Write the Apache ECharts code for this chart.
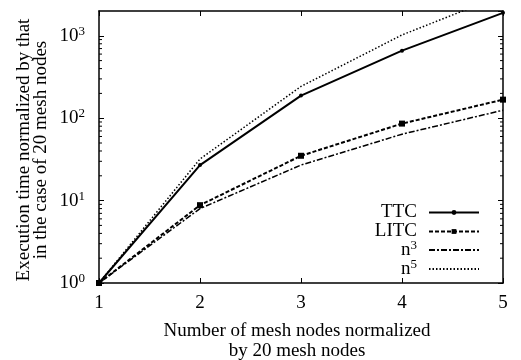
<!DOCTYPE html>
<html><head><meta charset="utf-8">
<script src="https://cdn.jsdelivr.net/npm/echarts@6/dist/echarts.min.js"></script>
<style>html,body{margin:0;padding:0;background:#fff}#c{width:521px;height:360px}</style>
</head><body><div id="c"></div>
<script>
const xValues = [1, 2, 3, 4, 5];
const ttc = [1, 27, 188, 660, 1900];
const litc = [1, 8.8, 35, 86, 168];
const n3 = [1, 8, 27, 64, 125];
const n5 = [1, 32, 243, 1024, 3125];
const xTicks = ['1', '2', '3', '4', '5'];
const yTickExps = ['0', '1', '2', '3'];
const minorMults = [2, 3, 4, 5, 6, 7, 8, 9];
const minorDecades = [1, 10, 100, 1000];
const legendNames = ['TTC', 'LITC', 'n3', 'n5'];

const FONT = 'Liberation Serif';
const FS = 19;
const pairs = a => a.map((v, i) => [xValues[i], v]);
const minorVals = [];
minorDecades.forEach(d => minorMults.forEach(m => { if (m * d < 2000) minorVals.push(m * d); }));

const chart = echarts.init(document.getElementById('c'), null, {renderer: 'canvas'});
const black = '#000';
const axisCommon = {
  axisLine: {show: true, onZero: false, lineStyle: {color: black, width: 1.5}},
  splitLine: {show: false},
  axisTick: {show: true, inside: true, length: 5, lineStyle: {color: black, width: 1}}
};
const richText = {
  b: {fontFamily: FONT, fontSize: FS, color: black},
  s: {fontFamily: FONT, fontSize: 13, color: black, padding: [0, 0, 9, 0]}
};
const legendTops = [203, 222, 239, 258];
const legends = legendNames.map((nm, i) => ({
  orient: 'vertical', align: 'right', right: 41, top: legendTops[i], padding: 0,
  itemWidth: 50, itemHeight: 6, itemGap: 0,
  textStyle: {fontFamily: FONT, fontSize: FS, color: black, padding: [0, 7, 0, 0], rich: richText},
  formatter: name => name === 'n3' ? '{b|n}{s|3}' : name === 'n5' ? '{b|n}{s|5}' : name,
  data: [(nm === 'n3' || nm === 'n5') ? {name: nm, itemStyle: {opacity: 0}} : nm]
}));

chart.setOption({
  animation: false,
  backgroundColor: '#fff',
  grid: {left: 99, right: 18, top: 11, bottom: 77},
  xAxis: [
    Object.assign({type: 'value', min: 1, max: 5, interval: 1, position: 'bottom',
      axisLabel: {show: true, color: black, fontFamily: FONT, fontSize: FS, margin: 11,
        formatter: v => xTicks[v - 1]}}, axisCommon),
    Object.assign({type: 'value', min: 1, max: 5, interval: 1, position: 'top',
      axisLabel: {show: false}}, axisCommon)
  ],
  yAxis: [
    Object.assign({type: 'log', logBase: 10, min: 1, max: 2000, position: 'left',
      axisLabel: {show: true, color: black, fontFamily: FONT, margin: 14, showMaxLabel: false,
        formatter: v => { const e = Math.round(Math.log10(v)); return yTickExps[e] === undefined ? '' : '{b|10}{s|' + yTickExps[e] + '}'; },
        rich: richText}}, axisCommon),
    Object.assign({type: 'log', logBase: 10, min: 1, max: 2000, position: 'right',
      axisLabel: {show: false}}, axisCommon)
  ],
  legend: legends,
  series: [
    {name: 'TTC', type: 'line', data: pairs(ttc), symbol: 'circle', symbolSize: 4,
      itemStyle: {color: black}, lineStyle: {color: black, width: 2, type: 'solid'}, clip: true},
    {name: 'LITC', type: 'line', data: pairs(litc), symbol: 'rect', symbolSize: 6,
      itemStyle: {color: black}, lineStyle: {color: black, width: 2, type: [4, 2]}, clip: true},
    {name: 'n3', type: 'line', data: pairs(n3), symbol: 'none',
      itemStyle: {color: black}, lineStyle: {color: black, width: 1.5, type: [6, 2, 2, 2]}, clip: true},
    {name: 'n5', type: 'line', data: pairs(n5), symbol: 'none',
      itemStyle: {color: black}, lineStyle: {color: black, width: 1.5, type: [1.5, 2]}, clip: true},
    {type: 'custom', data: minorVals.map(v => [1, v]), silent: true, clip: false,
      renderItem: (params, api) => {
        const v = api.value(1);
        const l = api.coord([1, v]);
        const r = api.coord([5, v]);
        return {type: 'group', children: [
          {type: 'line', shape: {x1: l[0], y1: l[1], x2: l[0] + 3, y2: l[1]}, style: {stroke: black, lineWidth: 1}},
          {type: 'line', shape: {x1: r[0], y1: r[1], x2: r[0] - 3, y2: r[1]}, style: {stroke: black, lineWidth: 1}}
        ]};
      }}
  ],
  graphic: [
    {type: 'text', x: 33, y: 150, rotation: Math.PI / 2,
      style: {text: 'Execution time normalized by that\nin the case of 20 mesh nodes', fontFamily: FONT, fontSize: FS,
        fill: black, align: 'center', verticalAlign: 'middle', lineHeight: 17}},
    {type: 'text', x: 297, y: 341,
      style: {text: 'Number of mesh nodes normalized\nby 20 mesh nodes', fontFamily: FONT, fontSize: FS,
        fill: black, align: 'center', verticalAlign: 'middle', lineHeight: 20}}
  ]
});
</script></body></html>
